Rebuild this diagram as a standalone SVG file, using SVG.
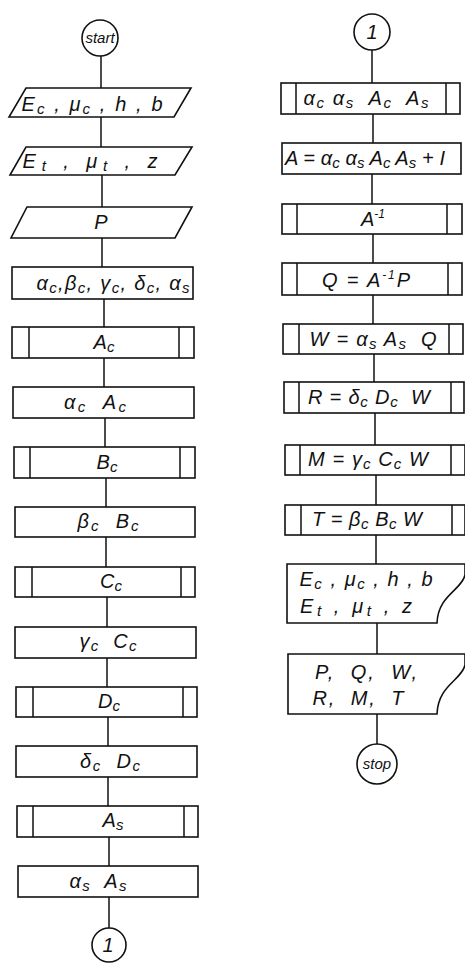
<svg xmlns="http://www.w3.org/2000/svg" width="465" height="964" viewBox="0 0 465 964">
<style>
.sh{fill:#fff;stroke:#111;stroke-width:1.6}
.ln{fill:none;stroke:#111;stroke-width:1.5}
.t{font-family:"Liberation Sans","DejaVu Sans",sans-serif;font-style:italic;font-size:20px;fill:#111;text-anchor:middle;white-space:pre}
.c{font-size:15px}
.s{font-size:15px;baseline-shift:-3px}
.u{font-size:12px;baseline-shift:8px}
</style>
<rect width="465" height="964" fill="#fff"/>
<g id="connectors">
<line class="ln" x1="101" y1="56" x2="101" y2="88"/>
<line class="ln" x1="101" y1="117" x2="101" y2="147"/>
<line class="ln" x1="102" y1="175" x2="102" y2="207"/>
<line class="ln" x1="102" y1="238" x2="102" y2="267"/>
<line class="ln" x1="104" y1="299" x2="104" y2="327"/>
<line class="ln" x1="104" y1="358" x2="104" y2="387"/>
<line class="ln" x1="105" y1="418" x2="105" y2="447"/>
<line class="ln" x1="106" y1="478" x2="106" y2="507"/>
<line class="ln" x1="106" y1="537" x2="106" y2="567"/>
<line class="ln" x1="107" y1="597" x2="107" y2="627"/>
<line class="ln" x1="107" y1="658" x2="107" y2="687"/>
<line class="ln" x1="108" y1="717" x2="108" y2="746"/>
<line class="ln" x1="108" y1="777" x2="108" y2="806"/>
<line class="ln" x1="109" y1="837" x2="109" y2="866"/>
<line class="ln" x1="109" y1="897" x2="109" y2="928"/>
<line class="ln" x1="372" y1="50" x2="372" y2="83"/>
<line class="ln" x1="373" y1="114" x2="373" y2="143"/>
<line class="ln" x1="372" y1="174" x2="372" y2="204"/>
<line class="ln" x1="373" y1="234" x2="373" y2="263"/>
<line class="ln" x1="373" y1="295" x2="373" y2="324"/>
<line class="ln" x1="374" y1="354" x2="374" y2="382"/>
<line class="ln" x1="375" y1="413" x2="375" y2="445"/>
<line class="ln" x1="376" y1="475" x2="376" y2="505"/>
<line class="ln" x1="376" y1="535" x2="376" y2="564"/>
<line class="ln" x1="377" y1="623" x2="377" y2="654"/>
<line class="ln" x1="377" y1="714" x2="377" y2="744"/>
</g>
<g id="start"><circle class="sh" cx="100" cy="38" r="18"/><text class="t c" x="100" y="43">start</text></g>
<g id="in1"><polygon class="sh" points="26,88 191,88 174,117 9,117"/><text class="t" x="92" y="111" textLength="141">E<tspan class="s">c</tspan> , μ<tspan class="s">c</tspan> , h , b</text></g>
<g id="in2"><polygon class="sh" points="26,147 192,147 175,175 10,175"/><text class="t" x="90" y="168" textLength="135">E<tspan class="s">t</tspan> , μ<tspan class="s">t</tspan> , z</text></g>
<g id="in3"><polygon class="sh" points="27,207 192,207 175,238 11,238"/><text class="t" x="101" y="229">P</text></g>
<g id="coef"><rect class="sh" x="12" y="267" width="181" height="32"/><text class="t" x="113" y="290" textLength="153">α<tspan class="s">c</tspan>,β<tspan class="s">c</tspan>, γ<tspan class="s">c</tspan>, δ<tspan class="s">c</tspan>, α<tspan class="s">s</tspan></text></g>
<g id="Ac"><rect class="sh" x="12" y="327" width="182" height="31"/><path class="ln" d="M29,327V358M179,327V358"/><text class="t" x="104" y="349">A<tspan class="s">c</tspan></text></g>
<g id="aAc"><rect class="sh" x="13" y="387" width="181" height="31"/><text class="t" x="95" y="409" textLength="62">α<tspan class="s">c</tspan>  A<tspan class="s">c</tspan></text></g>
<g id="Bc"><rect class="sh" x="14" y="447" width="181" height="31"/><path class="ln" d="M30,447V478M180,447V478"/><text class="t" x="107" y="469">B<tspan class="s">c</tspan></text></g>
<g id="bBc"><rect class="sh" x="15" y="507" width="180" height="30"/><text class="t" x="108" y="528" textLength="61">β<tspan class="s">c</tspan>  B<tspan class="s">c</tspan></text></g>
<g id="Cc"><rect class="sh" x="15" y="567" width="180" height="30"/><path class="ln" d="M32,567V597M181,567V597"/><text class="t" x="111" y="588">C<tspan class="s">c</tspan></text></g>
<g id="gCc"><rect class="sh" x="15" y="627" width="181" height="31"/><text class="t" x="108" y="648" textLength="57">γ<tspan class="s">c</tspan>  C<tspan class="s">c</tspan></text></g>
<g id="Dc"><rect class="sh" x="16" y="687" width="181" height="30"/><path class="ln" d="M33,687V717M183,687V717"/><text class="t" x="109" y="708">D<tspan class="s">c</tspan></text></g>
<g id="dDc"><rect class="sh" x="16" y="746" width="181" height="31"/><text class="t" x="110" y="768" textLength="60">δ<tspan class="s">c</tspan>  D<tspan class="s">c</tspan></text></g>
<g id="As"><rect class="sh" x="17" y="806" width="181" height="31"/><path class="ln" d="M33,806V837M184,806V837"/><text class="t" x="113" y="827">A<tspan class="s">s</tspan></text></g>
<g id="aAs"><rect class="sh" x="18" y="866" width="180" height="31"/><text class="t" x="98" y="888" textLength="57">α<tspan class="s">s</tspan>  A<tspan class="s">s</tspan></text></g>
<g id="con1"><circle class="sh" cx="109" cy="945" r="17"/><text class="t" x="108" y="952">1</text></g>
<g id="con2"><circle class="sh" cx="372" cy="32" r="18"/><text class="t" x="372" y="39">1</text></g>
<g id="prod"><rect class="sh" x="281" y="83" width="179" height="31"/><path class="ln" d="M296,83V114M446,83V114"/><text class="t" x="366" y="105" textLength="125">α<tspan class="s">c</tspan> α<tspan class="s">s</tspan>  A<tspan class="s">c</tspan>  A<tspan class="s">s</tspan></text></g>
<g id="Aeq"><rect class="sh" x="282" y="143" width="179" height="31"/><text class="t" x="365" y="165" textLength="160">A = α<tspan class="s">c</tspan> α<tspan class="s">s</tspan> A<tspan class="s">c</tspan> A<tspan class="s">s</tspan> + I</text></g>
<g id="Ainv"><rect class="sh" x="282" y="204" width="180" height="30"/><path class="ln" d="M297,204V234M447,204V234"/><text class="t" x="373" y="226">A<tspan class="u">-1</tspan></text></g>
<g id="Q"><rect class="sh" x="282" y="263" width="180" height="32"/><path class="ln" d="M297,263V295M448,263V295"/><text class="t" x="366" y="287" textLength="88">Q = A<tspan class="u">-1</tspan>P</text></g>
<g id="W"><rect class="sh" x="283" y="324" width="180" height="30"/><path class="ln" d="M299,324V354M449,324V354"/><text class="t" x="373" y="346" textLength="127">W = α<tspan class="s">s</tspan> A<tspan class="s">s</tspan>  Q</text></g>
<g id="R"><rect class="sh" x="284" y="382" width="180" height="31"/><path class="ln" d="M299,382V413M451,382V413"/><text class="t" x="369" y="404" textLength="122">R = δ<tspan class="s">c</tspan> D<tspan class="s">c</tspan>  W</text></g>
<g id="M"><rect class="sh" x="285" y="445" width="180" height="30"/><path class="ln" d="M300,445V475M451,445V475"/><text class="t" x="368" y="466" textLength="120">M = γ<tspan class="s">c</tspan> C<tspan class="s">c</tspan> W</text></g>
<g id="T"><rect class="sh" x="285" y="505" width="180" height="30"/><path class="ln" d="M301,505V535M452,505V535"/><text class="t" x="367" y="526" textLength="110">T = β<tspan class="s">c</tspan> B<tspan class="s">c</tspan> W</text></g>
<g id="out1"><path class="sh" d="M287,564H465V575C462,590 438,595 437,623H287Z"/><text class="t" x="366" y="586" textLength="133">E<tspan class="s">c</tspan> , μ<tspan class="s">c</tspan> , h , b</text><text class="t" x="356" y="613" textLength="112">E<tspan class="s">t</tspan> , μ<tspan class="s">t</tspan> , z</text></g>
<g id="out2"><path class="sh" d="M288,654H465V665C462,680 438,685 437,714H288Z"/><text class="t" x="366" y="679" textLength="102">P,  Q,  W,</text><text class="t" x="358" y="705" textLength="91">R,  M,  T</text></g>
<g id="stop"><circle class="sh" cx="377" cy="764" r="20"/><text class="t c" x="377" y="769">stop</text></g>
</svg>
